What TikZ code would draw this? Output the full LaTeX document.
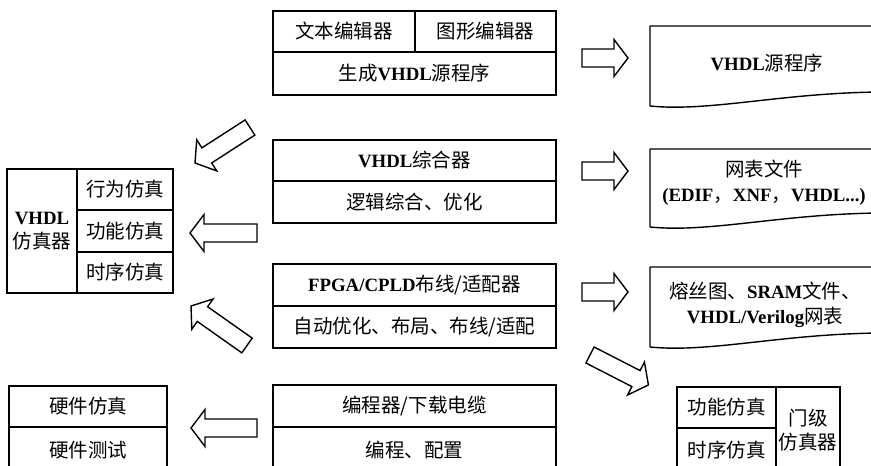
\documentclass[tikz,border=0pt]{standalone}
\usepackage{fontspec}
\setmainfont{Liberation Serif}
\newfontfamily\cjkf{Noto Sans CJK SC}
\usetikzlibrary{calc}
\newcommand\la[1]{{\rmfamily\bfseries\fontsize{18.8}{24}\selectfont #1}}
\tikzset{
  lw/.style={line width=1.4pt},
  cell/.style={draw, lw, inner sep=0pt, align=center, font=\cjkf\fontsize{19.5}{24}\selectfont},
  txt/.style={inner sep=0pt, align=center, font=\cjkf\fontsize{19.5}{25}\selectfont},
  docshape/.style={draw, lw, line join=round},
  barrowstyle/.style={draw, lw, fill=white, line join=miter},
}
\newcommand\blockarrow[2]{%
  \path let \p1=($(#2)-(#1)$) in \pgfextra{%
    \pgfmathsetmacro\baA{atan2(\y1,\x1)}%
    \pgfmathsetmacro\baL{veclen(\x1,\y1)}%
    \xdef\baAg{\baA}\xdef\baLg{\baL}};
  \draw[barrowstyle, shift={(#1)}, rotate=\baAg]
    (0,9) -- ({\baLg-14},9) -- ({\baLg-14},18.5) -- (\baLg,0)
    -- ({\baLg-14},-18.5) -- ({\baLg-14},-9) -- (0,-9) -- cycle;
}
\begin{document}
\begin{tikzpicture}[x=1pt,y=-1pt]
\useasboundingbox (0,0) rectangle (871,466);
\fill[white] (0,0) rectangle (871,466);

% centre column
\node[cell, minimum width=142pt, minimum height=41pt] (a1) at (344,31.5) {文本编辑器};
\node[cell, minimum width=141pt, minimum height=41pt] (a2) at (485.5,31.5) {图形编辑器};
\node[cell, minimum width=283pt, minimum height=43pt] (a3) at (414.5,73.5) {生成\la{VHDL}源程序};

\node[cell, minimum width=283pt, minimum height=41pt] (b1) at (414.5,160.5) {\la{VHDL}综合器};
\node[cell, minimum width=283pt, minimum height=42pt] (b2) at (414.5,202) {逻辑综合、优化};

\node[cell, minimum width=283pt, minimum height=42pt] (c1) at (414.5,285) {\la{FPGA/CPLD}布线/适配器};
\node[cell, minimum width=283pt, minimum height=42pt] (c2) at (414.5,327) {自动优化、布局、布线/适配};

\node[cell, minimum width=283pt, minimum height=42pt] (d1) at (414.5,406) {编程器/下载电缆};
\node[cell, minimum width=283pt, minimum height=46pt] (d2) at (414.5,450) {编程、配置};

% left simulator box
\node[cell, minimum width=70pt, minimum height=124pt] (l0) at (42,231) {\la{VHDL}\\仿真器};
\node[cell, minimum width=96pt, minimum height=41pt] (l1) at (125,189.5) {行为仿真};
\node[cell, minimum width=96pt, minimum height=42pt] (l2) at (125,231) {功能仿真};
\node[cell, minimum width=96pt, minimum height=41pt] (l3) at (125,272.5) {时序仿真};

% bottom-left box
\node[cell, minimum width=158pt, minimum height=41pt] (h1) at (88,406.5) {硬件仿真};
\node[cell, minimum width=158pt, minimum height=46pt] (h2) at (88,450) {硬件测试};

% gate level simulator
\node[cell, minimum width=99pt, minimum height=41pt] (g1) at (726.5,407.5) {功能仿真};
\node[cell, minimum width=99pt, minimum height=45pt] (g2) at (726.5,450.5) {时序仿真};
\node[cell, minimum width=64pt, minimum height=86pt] (g0) at (808,430) {门级\\仿真器};

% documents
\draw[docshape] (880,26) -- (650,26) -- (650,106) .. controls (710,112) and (780,93) .. (880,92);
\node[txt] (t1) at (767,63) {\la{VHDL}源程序};
\draw[docshape] (880,149) -- (650,149) -- (650,227) .. controls (710,233) and (780,214) .. (880,213);
\node[txt] (t2) at (764,183) {网表文件\\\la{(EDIF}，\la{XNF}，\la{VHDL...)}};
\draw[docshape] (880,267) -- (650,267) -- (650,347) .. controls (710,353) and (780,334) .. (880,333);
\node[txt] (t3) at (765,305) {熔丝图、\la{SRAM}文件、\\\la{VHDL/Verilog}网表};

% arrow end points
\coordinate (r1s) at (582,58);   \coordinate (r1e) at (628,58);
\coordinate (r2s) at (582,171);  \coordinate (r2e) at (628,171);
\coordinate (r3s) at (582,292);  \coordinate (r3e) at (628,292);
\coordinate (l1s) at (257,233);  \coordinate (l1e) at (190,233);
\coordinate (l2s) at (257,428);  \coordinate (l2e) at (191,428);
\coordinate (q1s) at (250,127.5);\coordinate (q1e) at (195,163);
\coordinate (q2s) at (247,345.5);\coordinate (q2e) at (191,306);
\coordinate (q3s) at (590,355);  \coordinate (q3e) at (648.5,385);

\blockarrow{r1s}{r1e}
\blockarrow{r2s}{r2e}
\blockarrow{r3s}{r3e}
\blockarrow{l1s}{l1e}
\blockarrow{l2s}{l2e}
\blockarrow{q1s}{q1e}
\blockarrow{q2s}{q2e}
\blockarrow{q3s}{q3e}
\end{tikzpicture}
\end{document}
